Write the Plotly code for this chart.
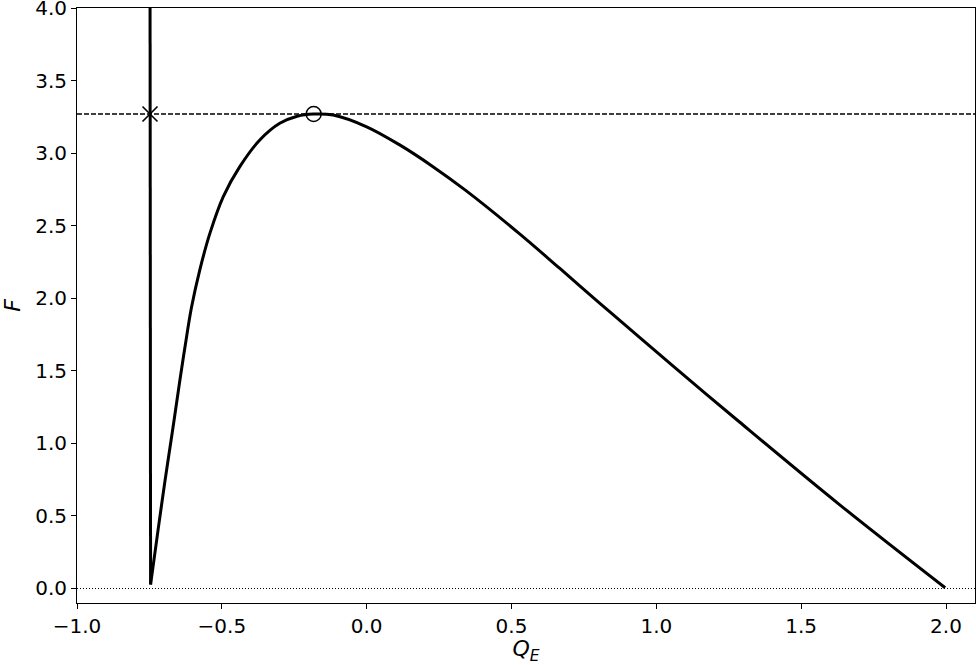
import plotly.graph_objects as go

# Data
Q_vert = [-0.748, -0.746]
F_vert = [4.5, 0.028]

Q_curve = [-0.746, -0.720, -0.696, -0.670, -0.646, -0.626, -0.605, -0.576, -0.541, -0.495,
           -0.438, -0.369, -0.300, -0.240, -0.183,
           -0.116, 0.000, 0.114, 0.229, 0.344, 0.528, 0.666, 0.803, 0.941, 1.114, 1.286,
           1.631, 1.997]
F_curve = [0.028, 0.406, 0.745, 1.090, 1.420, 1.680, 1.935, 2.196, 2.449, 2.701,
           2.907, 3.091, 3.206, 3.255, 3.270,
           3.263, 3.182, 3.057, 2.907, 2.740, 2.444, 2.207, 1.969, 1.732, 1.438, 1.149,
           0.580, 0.005]

F_max = 3.27
Q_cross = [-0.748]
Q_circle = [-0.183]

x_range = [-1.0, 2.1]
y_range = [-0.1, 4.0005]
x_ticks = [-1.0, -0.5, 0.0, 0.5, 1.0, 1.5, 2.0]
x_ticktext = ["\u22121.0", "\u22120.5", "0.0", "0.5", "1.0", "1.5", "2.0"]
y_ticks = [0.0, 0.5, 1.0, 1.5, 2.0, 2.5, 3.0, 3.5, 4.0]
y_ticktext = ["0.0", "0.5", "1.0", "1.5", "2.0", "2.5", "3.0", "3.5", "4.0"]

fig = go.Figure()

# horizontal reference lines
fig.add_trace(go.Scatter(x=x_range, y=[F_max, F_max], mode="lines",
                         line=dict(color="black", width=1.3, dash="5px,2px"),
                         hoverinfo="skip"))
fig.add_trace(go.Scatter(x=x_range, y=[0, 0], mode="lines",
                         line=dict(color="black", width=1.2, dash="1px,2px"),
                         hoverinfo="skip"))

fig.add_trace(go.Scatter(x=Q_vert, y=F_vert, mode="lines",
                         line=dict(color="black", width=3)))
fig.add_trace(go.Scatter(x=Q_curve, y=F_curve, mode="lines",
                         line=dict(color="black", width=3, shape="spline", smoothing=1.0)))

fig.add_trace(go.Scatter(x=Q_cross, y=[F_max], mode="markers",
                         marker=dict(symbol="x-thin", size=15, color="black",
                                     line=dict(color="black", width=1.6))))
fig.add_trace(go.Scatter(x=Q_circle, y=[F_max], mode="markers",
                         marker=dict(symbol="circle-open", size=15, color="black",
                                     line=dict(color="black", width=1.5))))

axis_common = dict(
    showgrid=False, zeroline=False, showline=True, linecolor="black", linewidth=1,
    mirror=True, ticks="outside", ticklen=5, tickwidth=1, tickcolor="black",
    automargin=False, ticklabeloverflow="allow",
    tickfont=dict(family="DejaVu Sans", size=20, color="black"),
)

fig.update_layout(
    width=976, height=665, autosize=False,
    margin=dict(l=77, r=1, t=8, b=62),
    plot_bgcolor="white", paper_bgcolor="white",
    showlegend=False,
    xaxis=dict(range=x_range, tickvals=x_ticks, ticktext=x_ticktext,
               title=dict(text="<i>Q</i><sub><i>E</i></sub>", font=dict(family="DejaVu Sans", size=22, color="black"), standoff=4),
               **axis_common),
    yaxis=dict(range=y_range, tickvals=y_ticks, ticktext=y_ticktext,
               title=dict(text="<i>F</i>", font=dict(family="DejaVu Sans", size=22, color="black"), standoff=10),
               **axis_common),
)

post = ("document.body.style.margin='0';document.body.style.padding='0';"
        "document.body.style.overflow='hidden';"
        "var gd=document.getElementById('{plot_id}');"
        "Plotly.relayout(gd,{width:976,height:665});")

fig.write_html("out.html", config={"responsive": False, "displayModeBar": False}, post_script=post)
